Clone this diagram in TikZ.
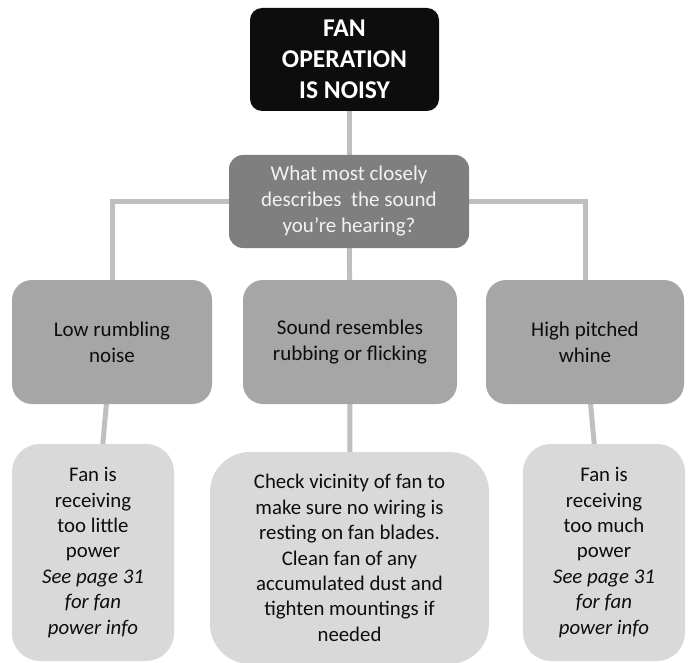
\documentclass[tikz,border=0pt]{standalone}
\usepackage{fontspec}
\setmainfont{Carlito}
\usepackage{tikz}
\usetikzlibrary{backgrounds}
\definecolor{ink}{HTML}{0D0D0D}
\definecolor{darkbox}{HTML}{7F7F7F}
\definecolor{midbox}{HTML}{A6A6A6}
\definecolor{lightbox}{HTML}{D9D9D9}
\definecolor{linkgray}{HTML}{BFBFBF}
\definecolor{paletext}{HTML}{F2F2F2}
\tikzset{
  topcard/.style={fill=ink,text=white,rounded corners=12pt,align=center,
                  inner sep=0pt,font=\fontsize{25.6}{31.2}\selectfont\bfseries},
  askcard/.style={fill=darkbox,text=paletext,rounded corners=14pt,align=center,
                  inner sep=0pt,font=\fontsize{21}{26}\selectfont},
  soundcard/.style={fill=midbox,text=ink,rounded corners=20pt,align=center,
                    inner sep=0pt,font=\fontsize{21}{26}\selectfont},
  fixcard/.style={fill=lightbox,text=ink,rounded corners=28pt,align=center,
                  inner sep=0pt,font=\fontsize{20.8}{25.4}\selectfont},
  link/.style={draw=linkgray,line width=5pt}
}

\begin{document}
\begin{tikzpicture}[x=1pt,y=-1pt]
    \path[use as bounding box] (0,0) rectangle (688,663);

    \node[topcard,minimum width=189pt,minimum height=103pt] (noisy) at (344.5,59.5)
      {FAN\\OPERATION\\IS NOISY};
    \node[askcard,minimum width=240pt,minimum height=93pt] (ask) at (349,201.5)
      {What most closely\\describes\ \ the sound\\you’re hearing?};

    \node[soundcard,minimum width=200pt,minimum height=124pt] (low) at (112,342)
      {Low rumbling\\noise};
    \node[soundcard,minimum width=214pt,minimum height=124pt] (rub) at (350,342)
      {Sound resembles\\rubbing or flicking};
    \node[soundcard,minimum width=198pt,minimum height=124pt] (high) at (585,342)
      {High pitched\\whine};

    \node[fixcard,minimum width=162pt,minimum height=217pt] (lowfix) at (93,552.5)
      {Fan is\\receiving\\too little\\power\\\textit{See page 31}\\\textit{for fan}\\\textit{power info}};
    \node[fixcard,rounded corners=40pt,minimum width=279pt,minimum height=212pt] (rubfix) at (349.5,558)
      {Check vicinity of fan to\\make sure no wiring is\\resting on fan blades.\\Clean fan of any\\accumulated dust and\\tighten mountings if\\needed};
    \node[fixcard,minimum width=162pt,minimum height=217pt] (highfix) at (604,552.5)
      {Fan is\\receiving\\too much\\power\\\textit{See page 31}\\\textit{for fan}\\\textit{power info}};

    \begin{scope}[on background layer]
      \draw[link] (ask.center) -- (ask.center |- noisy.south);
      \draw[link] (low.center) |- (ask.center) -| (high.center);
      \draw[link] (ask.center) -- (rub.center);
      \draw[link] (low.center) -- (lowfix.center);
      \draw[link] (rub.center) -- (rubfix.center);
      \draw[link] (high.center) -- (highfix.center);
    \end{scope}
  \end{tikzpicture}
\end{document}
